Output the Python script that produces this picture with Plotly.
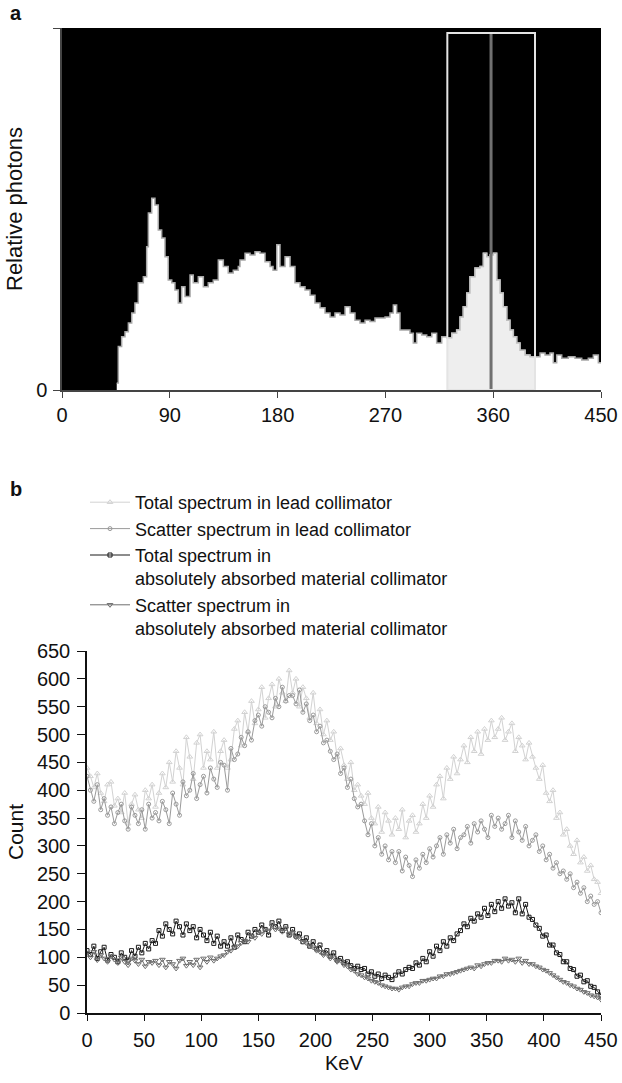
import plotly.graph_objects as go
import numpy as np

# ---------------- Panel a data (energy spectrum histogram) ----------------
hist_kev = [45.7, 47.0, 49.8, 52.6, 55.4, 58.2, 60.9, 63.7, 66.5, 67.9, 70.7, 72.1, 74.9,
            77.6, 80.4, 83.2, 86.0, 88.7, 91.6, 94.3, 97.1, 99.9, 102.7, 106.9, 109.6,
            113.8, 118.0, 122.1, 126.3, 130.5, 134.7, 138.8, 143.0, 147.2, 148.6, 152.8,
            157.0, 161.1, 165.3, 169.5, 173.7, 176.2, 179.3, 182.0, 186.2, 190.4, 194.5,
            198.7, 202.9, 207.1, 211.2, 215.4, 219.6, 223.8, 227.9, 232.1, 236.3, 240.5,
            244.6, 248.8, 253.0, 257.1, 261.3, 265.5, 269.7, 273.8, 276.6, 279.4, 282.2,
            286.4, 290.5, 293.3, 296.1, 300.3, 304.5, 308.7, 312.8, 317.0, 321.2, 325.4,
            329.5, 332.3, 335.0, 337.9, 340.6, 344.8, 349.0, 351.8, 354.6, 357.3, 360.1,
            362.9, 365.7, 368.4, 371.3, 374.0, 376.8, 379.6, 382.4, 386.6, 390.7, 399.1,
            403.3, 407.4, 410.2, 413.0, 417.2, 422.7, 428.3, 433.9, 439.4, 443.6, 447.8,
            450.0]
hist_rel = [0.019, 0.120, 0.147, 0.161, 0.185, 0.213, 0.240, 0.296, 0.296, 0.313, 0.396, 0.489, 0.530,
            0.511, 0.442, 0.420, 0.368, 0.304, 0.296, 0.276, 0.240, 0.285, 0.258, 0.318, 0.296,
            0.313, 0.285, 0.296, 0.304, 0.359, 0.341, 0.323, 0.331, 0.341, 0.359, 0.378,
            0.373, 0.382, 0.378, 0.354, 0.341, 0.331, 0.401, 0.341, 0.368, 0.341, 0.296,
            0.285, 0.276, 0.262, 0.240, 0.227, 0.213, 0.202, 0.213, 0.207, 0.230, 0.213,
            0.193, 0.185, 0.193, 0.189, 0.199, 0.199, 0.202, 0.213, 0.235, 0.213, 0.166,
            0.166, 0.157, 0.130, 0.157, 0.152, 0.147, 0.157, 0.130, 0.147, 0.144, 0.157,
            0.166, 0.202, 0.230, 0.268, 0.313, 0.337, 0.341, 0.378, 0.368, 0.373, 0.378,
            0.304, 0.268, 0.230, 0.193, 0.166, 0.147, 0.130, 0.110, 0.097, 0.092, 0.102,
            0.097, 0.102, 0.075, 0.097, 0.088, 0.092, 0.088, 0.083, 0.088, 0.097, 0.075,
            0.075]
window_lo, window_hi, window_top = 321.7, 394.9, 0.986
peak_kev = 358.2
a_xticks = [0, 90, 180, 270, 360, 450]

# ---------------- Panel b data (count spectra) ----------------
kev_b = list(range(0, 451, 3))
total_lead = [440,425,405,430,395,380,410,415,372,385,
              360,395,340,375,392,365,350,400,385,410,
              370,395,430,405,450,415,470,440,410,495,
              460,420,485,500,440,470,455,505,440,470,
              490,440,455,510,525,480,540,505,560,520,
              545,585,530,565,590,550,600,575,560,615,
              575,600,550,585,565,530,575,520,545,500,
              525,490,505,460,475,445,420,450,400,410,
              390,375,395,350,340,370,325,360,345,320,
              350,330,365,315,345,355,325,340,375,350,
              390,370,410,425,385,440,420,460,430,455,
              480,450,495,470,505,465,510,490,525,495,
              510,530,490,505,520,470,495,480,455,485,
              460,440,420,445,395,380,400,350,360,320,
              330,300,285,310,270,280,255,265,240,235,
              215]
scatter_lead = [425,400,380,410,365,385,355,370,340,360,
                375,345,330,370,355,340,365,330,375,350,
                360,345,380,365,340,395,375,355,415,390,
                400,430,385,410,425,395,440,420,405,450,
                445,400,475,455,465,495,480,505,490,525,
                535,515,550,540,530,565,550,585,560,570,
                570,555,580,540,555,525,535,505,515,485,
                490,470,455,465,430,440,405,420,385,370,
                375,345,320,340,300,315,285,300,275,290,
                270,290,255,280,265,245,275,260,285,270,
                295,280,300,315,285,320,305,330,295,315,
                320,335,305,340,325,345,330,315,355,335,
                350,330,340,355,315,345,325,310,335,300,
                310,320,290,300,275,285,260,270,250,255,
                240,250,225,235,215,225,200,210,195,200,
                180]
total_abs = [112,105,120,98,110,118,95,105,100,92,
             108,100,95,112,102,118,108,125,115,130,
             125,148,138,160,150,142,165,155,140,160,
             148,155,135,150,140,130,145,125,138,120,
             128,120,135,118,140,132,128,145,138,150,
             145,158,150,140,162,155,165,148,155,140,
             150,138,142,128,135,120,128,115,122,108,
             112,102,108,95,98,90,92,85,80,84,
             78,80,70,74,66,70,62,68,64,60,
             68,74,70,78,82,80,90,86,98,92,
             110,102,120,112,128,120,135,130,142,148,
             160,155,170,165,178,172,188,175,195,182,
             200,188,205,192,198,180,205,178,195,172,
             168,158,152,138,140,122,122,108,105,92,
             92,80,78,66,68,56,58,48,46,38,
             32]
scatter_abs = [108,100,110,95,104,98,92,102,96,90,
               100,92,86,98,94,88,96,84,92,90,
               94,86,96,82,92,88,80,94,98,85,
               92,86,96,82,98,92,100,94,98,102,
               104,110,112,118,120,126,130,128,138,135,
               145,142,150,148,156,150,152,146,152,142,
               144,136,134,128,126,120,118,112,110,104,
               106,98,100,92,94,86,84,78,76,70,
               68,64,62,58,56,54,50,48,46,44,
               44,42,46,48,48,52,54,54,58,58,
               60,62,62,66,66,70,70,72,74,76,
               78,80,82,80,86,84,88,90,90,94,
               94,92,98,94,96,92,98,90,94,88,
               88,84,82,78,76,72,68,64,60,56,
               54,50,48,44,42,38,36,32,30,28,
               24]
series_names = ["Total spectrum in lead collimator",
                "Scatter spectrum in lead collimator",
                "Total spectrum in<br>absolutely absorbed material collimator",
                "Scatter spectrum in<br>absolutely absorbed material collimator"]
b_xticks = list(range(0, 451, 50))
b_yticks = list(range(0, 651, 50))

FONT = "Liberation Sans, Arial, Helvetica, sans-serif"
W, H = 622, 1083

fig = go.Figure()

# ---- Panel a ----
fig.add_trace(go.Scatter(x=hist_kev, y=hist_rel, mode="lines", line_shape="hv",
                         fill="tozeroy", fillcolor="white",
                         line=dict(color="#a8a8a8", width=1.5),
                         xaxis="x", yaxis="y", showlegend=False, hoverinfo="skip"))

# part of histogram inside the energy window
kv = np.array(hist_kev); rv = np.array(hist_rel)
def step_val(x):
    idx = np.searchsorted(kv, x, side="right") - 1
    return float(rv[max(idx, 0)])
inside = (kv > window_lo) & (kv < window_hi)
wx = [window_lo] + list(kv[inside]) + [window_hi]
wy = [step_val(window_lo)] + list(rv[inside]) + [step_val(window_hi)]
fig.add_trace(go.Scatter(x=wx, y=wy, mode="lines", line_shape="hv",
                         fill="tozeroy", fillcolor="#eeeeee",
                         line=dict(color="#c0c0c0", width=1.5),
                         xaxis="x", yaxis="y", showlegend=False, hoverinfo="skip"))

# ---- Panel b ----
styles = [
    dict(color="#d2d2d2", symbol="triangle-up-open", size=5),
    dict(color="#9a9a9a", symbol="circle-open", size=4),
    dict(color="#1a1a1a", symbol="square-open", size=4),
    dict(color="#6e6e6e", symbol="triangle-down-open", size=5),
]
for vals, name, st in zip([total_lead, scatter_lead, total_abs, scatter_abs], series_names, styles):
    fig.add_trace(go.Scatter(x=kev_b, y=vals, mode="lines+markers", name=name,
                             line=dict(color=st["color"], width=1),
                             marker=dict(symbol=st["symbol"], size=st["size"],
                                         color=st["color"], line=dict(width=1, color=st["color"])),
                             xaxis="x2", yaxis="y2"))

ax_common = dict(showgrid=False, zeroline=False, ticks="outside",
                 tickfont=dict(size=20, color="#111", family=FONT),
                 showline=True, linewidth=1.5, automargin=False)

fig.update_layout(
    width=W, height=H,
    margin=dict(l=0, r=0, t=0, b=0, autoexpand=False),
    paper_bgcolor="white", plot_bgcolor="white",
    font=dict(family=FONT, color="#111"),
    xaxis=dict(domain=[62/W, 601/W], anchor="y", range=[0, 450], ticklen=6,
               tickvals=a_xticks, linecolor="#444", tickcolor="#444", **ax_common),
    yaxis=dict(domain=[1-390/H, 1-28/H], anchor="x", range=[0, 1], ticklen=7,
               ticklabelstandoff=2,
               tickvals=[0, 1], ticktext=["0", ""], linecolor="#444", tickcolor="#444",
               **ax_common),
    xaxis2=dict(domain=[87/W, 601/W], anchor="y2", range=[0, 450], ticklen=6,
                ticklabelstandoff=2,
                tickvals=b_xticks, linecolor="#111", tickcolor="#111", **ax_common),
    yaxis2=dict(domain=[1-1013/H, 1-651/H], anchor="x2", range=[0, 650], ticklen=8,
                ticklabelstandoff=3,
                tickvals=b_yticks, linecolor="#111", tickcolor="#111", **ax_common),
    legend=dict(x=85/W, y=1-484/H, xanchor="left", yanchor="top",
                font=dict(size=18, family=FONT, color="#111"),
                bgcolor="rgba(0,0,0,0)", valign="top", itemwidth=40,
                tracegroupgap=0),
    shapes=[
        dict(type="rect", xref="x domain", yref="y domain", x0=0, x1=1, y0=0, y1=1,
             fillcolor="black", line=dict(width=0), layer="below"),
        dict(type="line", xref="x", yref="y", x0=peak_kev, x1=peak_kev, y0=0, y1=window_top,
             line=dict(color="#707070", width=3)),
        dict(type="rect", xref="x", yref="y", x0=window_lo, x1=window_hi, y0=0, y1=window_top,
             line=dict(color="#e4e4e4", width=2)),
    ],
    annotations=[
        dict(text="<b>a</b>", xref="paper", yref="paper", x=8/W, y=1-13/H,
             xanchor="left", yanchor="middle", showarrow=False, font=dict(size=20, family=FONT)),
        dict(text="<b>b</b>", xref="paper", yref="paper", x=8/W, y=1-489/H,
             xanchor="left", yanchor="middle", showarrow=False, font=dict(size=20, family=FONT)),
        dict(text="Relative photons", xref="paper", yref="paper", x=15/W, y=1-209/H,
             textangle=-90, xanchor="center", yanchor="middle", showarrow=False,
             font=dict(size=22, family=FONT)),
        dict(text="Count", xref="paper", yref="paper", x=15/W, y=1-832/H,
             textangle=-90, xanchor="center", yanchor="middle", showarrow=False,
             font=dict(size=21, family=FONT)),
        dict(text="KeV", xref="paper", yref="paper", x=344/W, y=1-1063/H,
             xanchor="center", yanchor="middle", showarrow=False,
             font=dict(size=20, family=FONT)),
    ],
)

fig.write_html("out.html", config={"displayModeBar": False},
               post_script="document.body.style.margin='0';document.body.style.overflow='hidden';")
